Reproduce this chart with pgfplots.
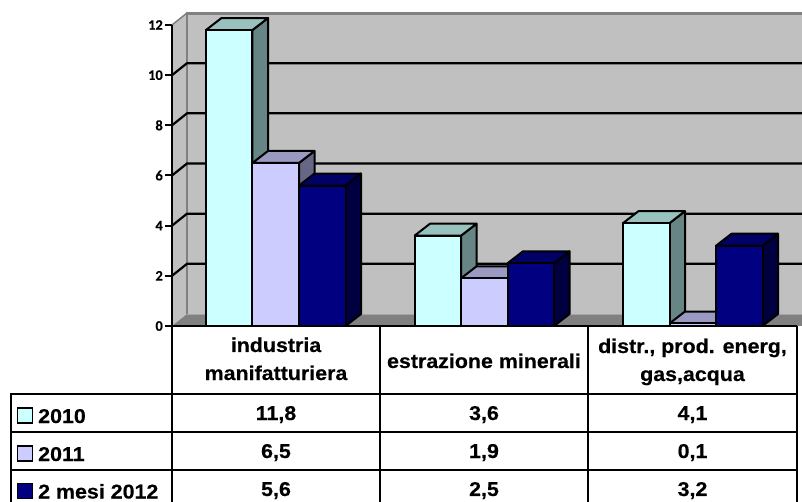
\documentclass[border=0pt]{standalone}
\usepackage{fontspec}
\setmainfont{Liberation Sans}[FakeStretch=1.07,BoldFeatures={FakeBold=0.35}]
\newfontfamily\carlito{Carlito}[BoldFeatures={FakeBold=0.3}]
\usepackage{pgfplots}
\pgfplotsset{compat=1.18}
\definecolor{wall}{HTML}{C0C0C0}
\definecolor{wallline}{HTML}{808080}
\definecolor{aface}{HTML}{CCFFFF}
\definecolor{atop}{HTML}{99C2BF}
\definecolor{aside}{HTML}{668584}
\definecolor{bface}{HTML}{CCCCFF}
\definecolor{btop}{HTML}{9999C2}
\definecolor{bside}{HTML}{666685}
\definecolor{cface}{HTML}{000080}
\definecolor{ctop}{HTML}{000066}
\definecolor{cside}{HTML}{000040}
% x is in pixels, y in chart values; one value unit is 25.0833 px
\def\dx{15.5}
\def\dy{0.478}
\newcommand{\bardd}[3]{%
  \pgfmathsetmacro{\xa}{#1-23.25}
  \pgfmathsetmacro{\xb}{#1+23.25}
  \pgfmathsetmacro{\xc}{#1+23.25+\dx}
  \pgfmathsetmacro{\xd}{#1-23.25+\dx}
  \pgfmathsetmacro{\yt}{#2+\dy}
  \addplot[fill=#3side,draw=black,line width=2pt,line join=round] coordinates {(\xb,0) (\xc,\dy) (\xc,\yt) (\xb,#2) (\xb,0)};
  \addplot[fill=#3top,draw=black,line width=2pt,line join=round] coordinates {(\xa,#2) (\xd,\yt) (\xc,\yt) (\xb,#2) (\xa,#2)};
  \addplot[ybar,bar width=46.5pt,bar shift=0pt,fill=#3face,draw=black,line width=2pt] coordinates {(#1,#2)};
}
\newcommand{\gridl}[1]{%
  \pgfmathsetmacro{\yt}{#1+\dy}
  \addplot[black,line width=2.2pt] coordinates {(172,#1) (187,\yt) (802,\yt)};
}
\newcommand{\txt}[3]{\node[font=\bfseries,inner sep=0pt,anchor=base] at (axis cs:#1,{(326-#2)/25.0833}) {\fontsize{20}{20}\selectfont #3};}
\newcommand{\hl}[3]{\draw[black,line width=2.2pt] (axis cs:#1,{(326-#3)/25.0833}) -- (axis cs:#2,{(326-#3)/25.0833});}
\newcommand{\vl}[3]{\draw[black,line width=2.2pt] (axis cs:#1,{(326-#2)/25.0833}) -- (axis cs:#1,{(326-#3)/25.0833});}
\newcommand{\key}[2]{\draw[black,line width=1.8pt,fill=#2] (axis cs:17.5,{(326-#1+7.5)/25.0833}) rectangle (axis cs:32.5,{(326-#1-7.5)/25.0833});}
\begin{document}
\begin{tikzpicture}
\begin{axis}[
  name=ax,
  scale only axis, width=630pt, height=301pt,
  xmin=172, xmax=802, ymin=0, ymax=12,
  clip=false,
  axis y line=left, axis x line=none,
  ytick={0,2,4,6,8,10,12},
  axis line style={line width=2.2pt,-},
  tick style={black,line width=2pt},
  tick align=outside, major tick length=7pt,
  /pgf/number format/assume math mode=true,
  yticklabel style={font=\carlito\bfseries\fontsize{14.5}{14.5}\selectfont,inner sep=0pt,xshift=-2pt},
]
% walls and floor
\addplot[fill=wall,draw=none] coordinates {(187,0.478) (802,0.478) (802,12.478) (187,12.478) (187,0.478)};
\addplot[fill=wall,draw=none] coordinates {(172,0) (187,0.478) (187,12.478) (172,12) (172,0)};
\addplot[fill=wallline,draw=none] coordinates {(172,0) (187,0.478) (802,0.478) (802,0) (172,0)};
\addplot[wallline,line width=2.5pt] coordinates {(187,0.478) (187,12.45) (802,12.45)};
\addplot[wallline,line width=1.5pt] coordinates {(172,12) (187,12.478)};
\addplot[wallline!70,line width=1pt] coordinates {(187,0.44) (802,0.44)};
\gridl{2}
\gridl{4}
\gridl{6}
\gridl{8}
\gridl{10}
% bars
\bardd{229.25}{11.8}{a}
\bardd{275.75}{6.5}{b}
\bardd{322.25}{5.6}{c}
\bardd{437.75}{3.6}{a}
\bardd{484.25}{1.9}{b}
\bardd{530.75}{2.5}{c}
\bardd{646.25}{4.1}{a}
\bardd{692.75}{0.1}{b}
\bardd{739.25}{3.2}{c}
% data table
\hl{172}{797}{326}
\hl{10}{797}{394}
\hl{10}{797}{432}
\hl{10}{797}{470}
\vl{11}{393}{510}
\vl{172}{25}{510}
\vl{380}{326}{510}
\vl{588}{326}{510}
\vl{797}{326}{510}
\txt{276}{352}{industria}
\txt{276}{380}{manifatturiera}
\txt{484}{368}{estrazione minerali}
\txt{692.5}{353}{distr., prod. energ,}
\txt{692.5}{381}{gas,acqua}
\key{415.5}{aface}
\key{453.5}{bface}
\key{491}{cface}
\node[font=\bfseries,inner sep=0pt,anchor=base west] at (axis cs:38,{(326-423)/25.0833}) {\fontsize{20}{20}\selectfont 2010};
\node[font=\bfseries,inner sep=0pt,anchor=base west] at (axis cs:38,{(326-461)/25.0833}) {\fontsize{20}{20}\selectfont 2011};
\node[font=\bfseries,inner sep=0pt,anchor=base west] at (axis cs:38,{(326-498.5)/25.0833}) {\fontsize{20}{20}\selectfont 2 mesi 2012};
\txt{276}{420}{11,8}
\txt{484}{420}{3,6}
\txt{692.5}{420}{4,1}
\txt{276}{458}{6,5}
\txt{484}{458}{1,9}
\txt{692.5}{458}{0,1}
\txt{276}{496}{5,6}
\txt{484}{496}{2,5}
\txt{692.5}{496}{3,2}
\end{axis}
\pgfresetboundingbox
\path ([xshift=-172pt,yshift=-176pt]ax.south west) rectangle ([yshift=25pt]ax.north east);
\end{tikzpicture}
\end{document}
